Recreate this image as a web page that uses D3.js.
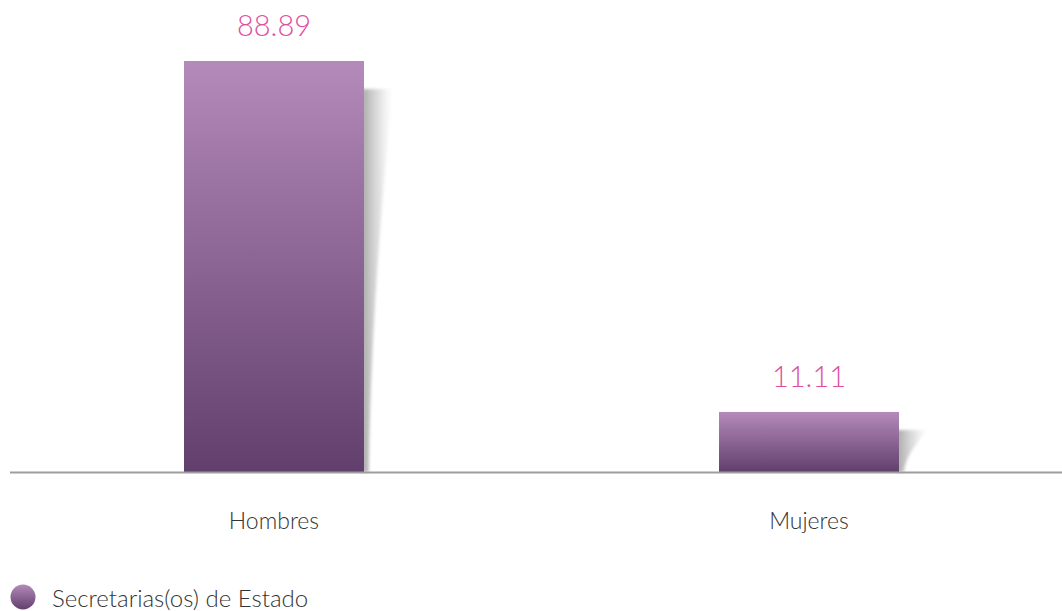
<html>
<head>
<script src="https://d3js.org/d3.v7.min.js"></script>
<style>
body { margin: 0; background: #fff; }
svg text { font-family: Lato, "Open Sans", sans-serif; }
.value { fill: #df4f9f; font-size: 29px; font-weight: 300; text-anchor: middle; }
.cat { fill: #333; font-size: 23px; font-weight: 300; text-anchor: middle; }
.legend { fill: #333; font-size: 24px; font-weight: 300; }
</style>
</head>
<body>
<svg id="chart"></svg>
<script>
// data
var categories = ['Hombres', 'Mujeres'];
var values = [88.89, 11.11];
var seriesName = 'Secretarias(os) de Estado';

var W = 1062, H = 611;
var svg = d3.select('#chart').attr('width', W).attr('height', H);

var x = d3.scaleBand()
	.domain(categories)
	.range([6.5, 1076.5])
	.paddingInner(0.6636)
	.paddingOuter(0.3318);

// axis line sits a little below zero
var yMin = -2.2;
var y = d3.scaleLinear()
	.domain([yMin, 88.89])
	.range([472, 61]);

var defs = svg.append('defs');
function purple(id) {
	var g = defs.append('linearGradient')
		.attr('id', id)
		.attr('x1', 0).attr('y1', 0).attr('x2', 0).attr('y2', 1);
	g.append('stop').attr('offset', '0%').attr('stop-color', '#b48aba');
	g.append('stop').attr('offset', '100%').attr('stop-color', '#613f6d');
}
purple('barGrad');
purple('legGrad');

var shGrad = defs.append('linearGradient')
	.attr('id', 'shadowGrad')
	.attr('x1', 0).attr('y1', 0).attr('x2', 1).attr('y2', 0);
shGrad.append('stop').attr('offset', '0%').attr('stop-color', '#999').attr('stop-opacity', 0.85);
shGrad.append('stop').attr('offset', '55%').attr('stop-color', '#bbb').attr('stop-opacity', 0.45);
shGrad.append('stop').attr('offset', '100%').attr('stop-color', '#ddd').attr('stop-opacity', 0);

defs.append('filter').attr('id', 'blur')
	.append('feGaussianBlur').attr('stdDeviation', 1.8);

var data = categories.map(function(c, i) { return { cat: c, v: values[i] }; });

// curled shadow behind bars
svg.selectAll('.shadow')
	.data(data)
	.enter().append('path')
	.attr('class', 'shadow')
	.attr('fill', 'url(#shadowGrad)')
	.attr('filter', 'url(#blur)')
	.attr('d', function(d) {
		var x0 = x(d.cat) + x.bandwidth() - 2;
		var top = y(d.v) + Math.min(28, (y(yMin) - y(d.v)) * 0.3);
		var bot = y(yMin);
		var h = bot - top;
		return 'M' + x0 + ',' + top +
			' L' + (x0 + 31) + ',' + top +
			' C' + (x0 + 17) + ',' + (top + h * 0.35) + ' ' + (x0 + 8) + ',' + (top + h * 0.7) + ' ' + (x0 + 7) + ',' + bot +
			' L' + x0 + ',' + bot + ' Z';
	});

svg.selectAll('.bar')
	.data(data)
	.enter().append('rect')
	.attr('class', 'bar')
	.attr('x', function(d) { return x(d.cat); })
	.attr('y', function(d) { return y(d.v); })
	.attr('width', x.bandwidth())
	.attr('height', function(d) { return y(yMin) - y(d.v); })
	.attr('fill', 'url(#barGrad)');

svg.append('line')
	.attr('x1', 10).attr('x2', W)
	.attr('y1', y(yMin) + 0.5).attr('y2', y(yMin) + 0.5)
	.attr('stroke', '#9e9e9e').attr('stroke-width', 2);

svg.selectAll('.value')
	.data(data)
	.enter().append('text')
	.attr('class', 'value')
	.attr('x', function(d) { return x(d.cat) + x.bandwidth() / 2; })
	.attr('y', function(d) { return y(d.v) - 25; })
	.text(function(d) { return d.v.toFixed(2); });

svg.selectAll('.cat')
	.data(data)
	.enter().append('text')
	.attr('class', 'cat')
	.attr('x', function(d) { return x(d.cat) + x.bandwidth() / 2; })
	.attr('y', 529)
	.text(function(d) { return d.cat; });

// legend
svg.append('circle').attr('cx', 23).attr('cy', 597).attr('r', 12.5).attr('fill', 'url(#legGrad)');
svg.append('text').attr('class', 'legend').attr('x', 52).attr('y', 607).text(seriesName);
</script>
</body>
</html>
